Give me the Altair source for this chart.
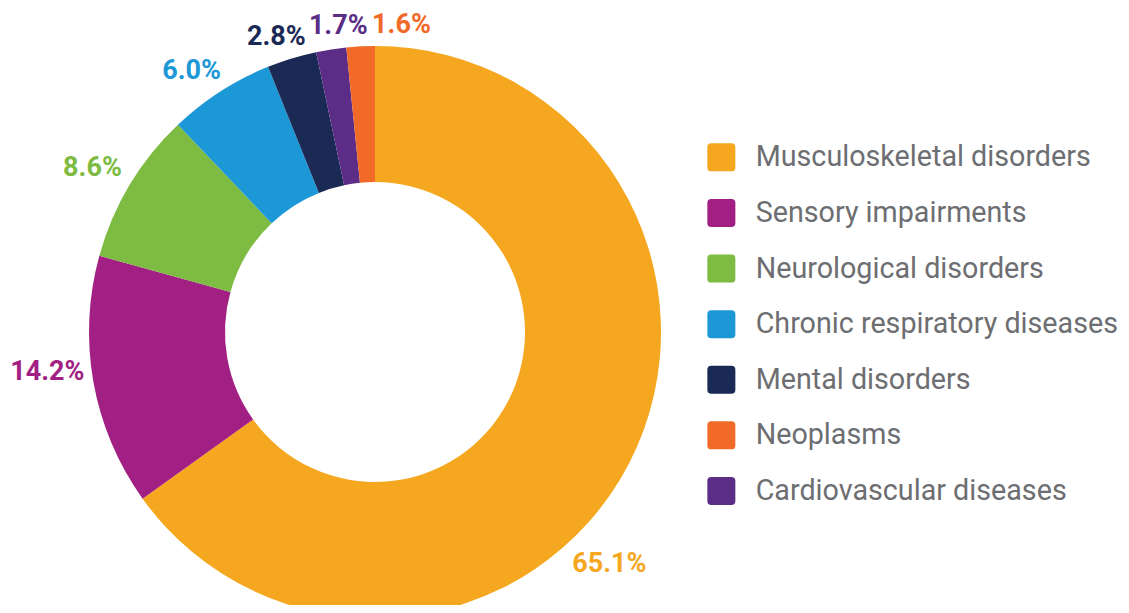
import math
import altair as alt
import pandas as pd

# slices in clockwise drawing order (starting at 12 o'clock)
categories = [
    "Musculoskeletal disorders",
    "Sensory impairments",
    "Neurological disorders",
    "Chronic respiratory diseases",
    "Mental disorders",
    "Cardiovascular diseases",
    "Neoplasms",
]
values = [65.1, 14.2, 8.6, 6.0, 2.8, 1.7, 1.6]
label_texts = ["65.1%", "14.2%", "8.6%", "6.0%", "2.8%", "1.7%", "1.6%"]

legend_order = [
    "Musculoskeletal disorders",
    "Sensory impairments",
    "Neurological disorders",
    "Chronic respiratory diseases",
    "Mental disorders",
    "Neoplasms",
    "Cardiovascular diseases",
]
palette = ["#F4A71F", "#A21F84", "#7DBB42", "#1C98D6", "#1B2A55", "#F26A27", "#5B2D86"]

# ---- label layout (computed): mid angle of each slice, spread so neighbours don't
# collide, kept clear of the legend side, and the label box pushed outward from an
# anchor point just outside the ring.
OUTER_R, INNER_R = 286, 150
LABEL_FONT = 27
ANCHOR_R = 296
MIN_GAP = 10.7          # degrees between neighbouring labels
MIN_ANGLE = 138.0       # keep labels below the legend
HALF_H = 12


def est_width(s):
    w = 0.0
    for ch in s:
        w += 0.73 if ch == "%" else (0.27 if ch == "." else 0.562)
    return w * LABEL_FONT


total = sum(values)
acc = 0.0
label_deg = []
for v in values:
    mid = (acc + v / 2) / total * 360.0
    acc += v
    a = max(mid, MIN_ANGLE)
    if label_deg and a < label_deg[-1] + MIN_GAP:
        a = label_deg[-1] + MIN_GAP
    label_deg.append(a)

label_theta, label_radius = [], []
for a, txt in zip(label_deg, label_texts):
    t = math.radians(a)
    s, c = math.sin(t), math.cos(t)
    px, py = ANCHOR_R * s, -ANCHOR_R * c
    px += max(-1.0, min(1.0, 1.5 * s)) * est_width(txt) / 2
    py += HALF_H if c < -0.5 else -HALF_H
    label_theta.append(math.atan2(px, -py) % (2 * math.pi))
    label_radius.append(math.hypot(px, py))

df = pd.DataFrame({
    "category": categories,
    "value": values,
    "label": label_texts,
    "slice": list(range(len(categories))),
    "label_theta": label_theta,
    "label_radius": label_radius,
})

color_scale = alt.Scale(domain=legend_order, range=palette)
rounded_square = ("M -1 -0.72 Q -1 -1 -0.72 -1 L 0.72 -1 Q 1 -1 1 -0.72 L 1 0.72 "
                  "Q 1 1 0.72 1 L -0.72 1 Q -1 1 -1 0.72 Z")

CX, CY = 367, 324

arcs = alt.Chart(df).mark_arc(outerRadius=OUTER_R, innerRadius=INNER_R).encode(
    theta=alt.Theta("value:Q", stack=True),
    order=alt.Order("slice:Q", sort="ascending"),
    x=alt.value(CX),
    y=alt.value(CY),
    color=alt.Color(
        "category:N",
        scale=color_scale,
        legend=alt.Legend(
            title=None,
            orient="none",
            legendX=699,
            legendY=135,
            symbolType=rounded_square,
            symbolSize=784,
            symbolStrokeWidth=0,
            symbolOpacity=1,
            labelFont="Roboto",
            labelFontSize=28.7,
            labelColor="#6D6E71",
            labelOffset=20,
            rowPadding=25.6,
            labelLimit=600,
        ),
    ),
)

labels = alt.Chart(df).mark_text(
    font="Roboto", fontSize=LABEL_FONT, fontWeight="bold", baseline="middle", align="center"
).encode(
    theta=alt.Theta("label_theta:Q", scale=None),
    radius=alt.Radius("label_radius:Q", scale=None),
    x=alt.value(CX),
    y=alt.value(CY),
    text="label:N",
    color=alt.Color("category:N", scale=color_scale, legend=None),
)

chart = (
    alt.layer(arcs, labels)
    .properties(width=1113, height=597, padding=0, autosize=alt.AutoSizeParams(type="none"))
    .configure_view(stroke=None)
)

chart.save("out.html", embed_options={"renderer": "svg", "actions": False})
